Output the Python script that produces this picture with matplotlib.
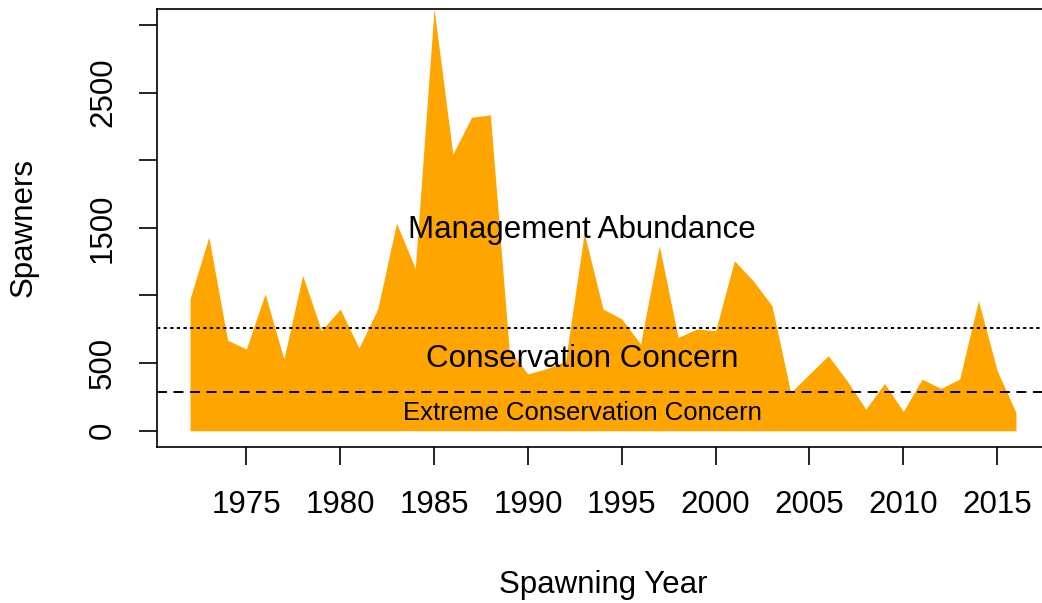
import matplotlib
matplotlib.use("Agg")
import matplotlib.pyplot as plt
import numpy as np

# spawners by year
years = np.arange(1972, 2017)
spawners = [975, 1432, 670, 604, 1012, 530, 1148, 740, 900, 612,
            900, 1535, 1200, 3120, 2045, 2318, 2335, 600, 420, 460,
            515, 1460, 900, 826, 641, 1368, 690, 752, 740, 1257,
            1109, 925, 283, 419, 555, 370, 160, 350, 143, 382,
            313, 382, 962, 444, 135]

# reference levels
management_level = 760
extreme_level = 285

x_ticks = [1975, 1980, 1985, 1990, 1995, 2000, 2005, 2010, 2015]
y_ticks = [0, 500, 1000, 1500, 2000, 2500, 3000]
y_tick_labels = ['0', '500', '', '1500', '', '2500', '']

plt.rcParams['font.family'] = ['Liberation Sans', 'DejaVu Sans']

W, H = 1042, 603
fig = plt.figure(figsize=(W / 100, H / 100), dpi=100)
# plot region in pixels (right edge runs past the image, as in the original)
left, right, top, bottom = 157, 1049, 8.7, 447
ax = fig.add_axes([left / W, 1 - bottom / H, (right - left) / W, (bottom - top) / H])

ax.fill_between(years, spawners, 0, color='#FFA500', linewidth=0)

ax.axhline(management_level, color='black', lw=1.4, linestyle=(0, (1.7, 1.7)))
ax.axhline(extreme_level, color='black', lw=1.4, linestyle=(0, (5.1, 3.4)))

ax.text(1992.9, 1425, 'Management Abundance', ha='center', va='baseline', fontsize=22.5)
ax.text(1992.9, 468, 'Conservation Concern', ha='center', va='baseline', fontsize=22.6)
ax.text(1992.9, 79, 'Extreme Conservation Concern', ha='center', va='baseline', fontsize=18.5)

ax.set_xlim(1970.24, 2017.76)
ax.set_ylim(-120, 3120)

ax.set_xticks(x_ticks)
ax.set_xticklabels([str(y) for y in x_ticks])
ax.set_yticks(y_ticks)
ax.set_yticklabels(y_tick_labels, rotation=90, va='center')

ax.tick_params(axis='both', direction='out', length=13, width=1.2, labelsize=22.5, colors='black')
ax.tick_params(axis='x', pad=18)
ax.tick_params(axis='y', pad=15)

for s in ax.spines.values():
    s.set_linewidth(1.2)

ax.set_xlabel('Spawning Year', fontsize=22.5, va='center')
ax.xaxis.set_label_coords(0.5, (bottom - 585) / (bottom - top))
ax.set_ylabel('Spawners', fontsize=22.5, va='center')
ax.yaxis.set_label_coords((24 - left) / (right - left), 0.5)

fig.savefig('out.png', dpi=100)
